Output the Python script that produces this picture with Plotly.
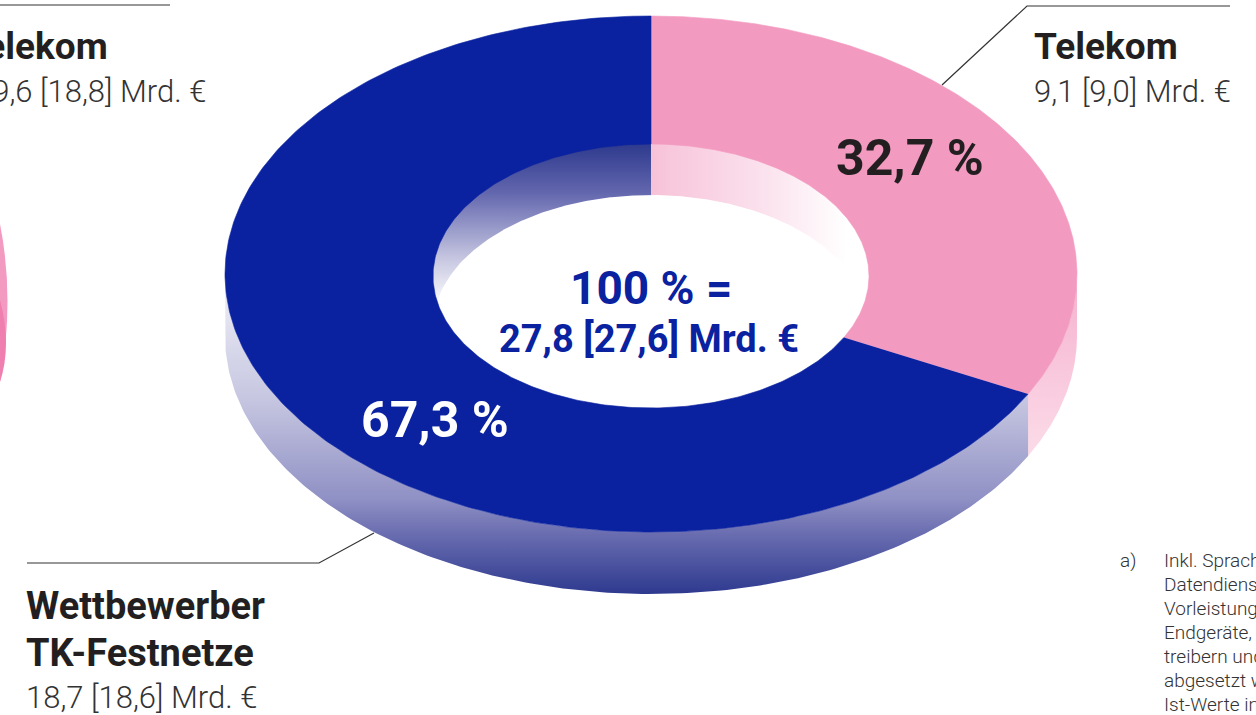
import numpy as np
import plotly.graph_objects as go

# ---------------- data ----------------
segments = ["Telekom", "Wettbewerber TK-Festnetze"]
shares_pct = [32.7, 67.3]
values_bn = [9.1, 18.7]
values_prev_bn = [9.0, 18.6]
total_bn = 27.8
total_prev_bn = 27.6
neighbour_label = "Telekom"
neighbour_value = "19,6 [18,8] Mrd. €"
footnote_marker = "a)"
footnote_lines = ["Inkl. Sprach- und", "Datendienste sowie", "Vorleistungen und",
                  "Endgeräte, die an Be-", "treibern und Kunden", "abgesetzt werden.",
                  "Ist-Werte in Mrd. €"]

# ---------------- style ----------------
PINK = "#F39AC1"
BLUE = "#0A22A0"
DARK = "#231F20"
GREY = "#333333"
FONT = "Roboto"

CX, CY, RX, RY, DEPTH = 651, 274, 426, 258, 62
HCY, HRX, HRY, IN_DEPTH = 276, 218, 132, 51


def fmt(v):
    return f"{v:.1f}".replace(".", ",")


def ell(theta_deg, rx, ry, cy, dy=0.0):
    t = np.radians(theta_deg)
    return CX + rx * np.sin(t), cy - ry * np.cos(t) + dy


edges = np.concatenate([[0], np.cumsum(shares_pct)]) / sum(shares_pct) * 360.0

fig = go.Figure()

side_scales = [
    dict(colorscale=[[0, "#F5B0CE"], [1, "#FBD8E6"]], start=270, stop=440),
    dict(colorscale=[[0, "#F2F2F9"], [0.39, "#C6C6E1"], [0.70, "#8F90C4"],
                     [0.80, "#6C6FB1"], [1, "#2C388E"]], start=274, stop=596),
]

# outer front wall
for i in range(len(shares_pct)):
    a0, a1 = max(edges[i], 90), min(edges[i + 1], 270)
    if a1 <= a0:
        continue
    th = np.linspace(a0, a1, 200)
    xt, yt = ell(th, RX, RY, CY)
    xb, yb = ell(th[::-1], RX, RY, CY, DEPTH)
    fig.add_trace(go.Scatter(
        x=np.concatenate([xt, xb]), y=np.concatenate([yt, yb]),
        mode="lines", line=dict(width=0), fill="toself",
        fillgradient=dict(type="vertical", **side_scales[i]),
        hoverinfo="skip", showlegend=False))

# inner back wall (left half blue, right half pink)
th = np.linspace(180, 360, 200)
x, y = ell(th, HRX + 2, HRY + 2, HCY)
fig.add_trace(go.Scatter(
    x=x, y=y, mode="lines", line=dict(width=0), fill="toself",
    fillgradient=dict(type="vertical", start=HCY - HRY, stop=HCY + IN_DEPTH / 2 + 4,
                      colorscale=[[0, "#2E3A8E"], [0.3, "#6266AD"], [0.7, "#C4C4E0"], [1, "#FFFFFF"]]),
    hoverinfo="skip", showlegend=False))
th = np.linspace(0, 180, 200)
x, y = ell(th, HRX + 2, HRY + 2, HCY)
fig.add_trace(go.Scatter(
    x=x, y=y, mode="lines", line=dict(width=0), fill="toself",
    fillgradient=dict(type="horizontal", start=CX, stop=CX + 195,
                      colorscale=[[0, "#F7C2D8"], [0.6, "#FBE3EE"], [1, "#FFFFFF"]]),
    hoverinfo="skip", showlegend=False))

# floor of the hole
xi = HRX * np.sqrt(1 - (IN_DEPTH / (2 * HRY)) ** 2)
xs = np.linspace(-xi, xi, 300)
s = np.sqrt(np.clip(1 - (xs / HRX) ** 2, 0, 1))
fig.add_trace(go.Scatter(
    x=np.concatenate([CX + xs, CX + xs[::-1]]),
    y=np.concatenate([HCY + IN_DEPTH - HRY * s, (HCY + HRY * s)[::-1]]),
    mode="lines", line=dict(width=0), fill="toself", fillcolor="#FFFFFF",
    hoverinfo="skip", showlegend=False))

# top face sectors
top_colors = [PINK, BLUE]
for i in range(len(shares_pct)):
    th = np.linspace(edges[i], edges[i + 1], 300)
    xo, yo = ell(th, RX, RY, CY)
    xn, yn = ell(th[::-1], HRX, HRY, HCY)
    fig.add_trace(go.Scatter(
        x=np.concatenate([xo, xn]), y=np.concatenate([yo, yn]),
        mode="lines", line=dict(width=0.6, color=top_colors[i]), fill="toself",
        fillcolor=top_colors[i], hoverinfo="skip", showlegend=False))

# ---------------- annotations ----------------
ann = []


def add(text, x, y, size, color=DARK, weight=700, xanchor="left"):
    ann.append(dict(text=text, x=x, y=y, xref="x", yref="y", showarrow=False,
                    xanchor=xanchor, yanchor="middle",
                    font=dict(family=FONT, size=size, color=color, weight=weight)))


add(segments[0], 1032, 46, 37)
add(f"{fmt(values_bn[0])} [{fmt(values_prev_bn[0])}] Mrd. €", 1032, 91, 31, color=GREY, weight=300)
add("Wettbewerber", 24, 606, 38)
add("TK-Festnetze", 24, 653, 38)
add(f"{fmt(values_bn[1])} [{fmt(values_prev_bn[1])}] Mrd. €", 24, 697, 31, color=GREY, weight=300)

add(f"{fmt(shares_pct[0])} %", 910, 158, 50, xanchor="center")
add(f"{fmt(shares_pct[1])} %", 435, 420, 50, color="#FFFFFF", xanchor="center")
add(f"{sum(shares_pct):.0f} % =", 651, 288, 46, color=BLUE, xanchor="center")
add(f"{fmt(total_bn)} [{fmt(total_prev_bn)}] Mrd. €", 649, 339, 38, color=BLUE, xanchor="center")

add(neighbour_label, 110, 46, 37, xanchor="right")
add(neighbour_value, 208, 91, 31, color=GREY, weight=300, xanchor="right")

add(footnote_marker, 1118, 560, 19, color=GREY, weight=300)
for k, line in enumerate(footnote_lines):
    add(line, 1162, 560 + 24.0 * k, 19, color=GREY, weight=300)

shapes = [
    dict(type="path", path="M 942,85 L 1027,6 L 1230,6", line=dict(color=GREY, width=1.2)),
    dict(type="path", path="M 374,533 L 319,563 L 27,563", line=dict(color=GREY, width=1.2)),
    dict(type="line", x0=0, x1=170, y0=5, y1=5, line=dict(color=GREY, width=1.2)),
    dict(type="path", path="M 0,224 Q 15,300 0,382 Z", fillcolor=PINK, line=dict(width=0)),
    dict(type="path", path="M 0,300 Q 12,345 0,382 Z", fillcolor="#EF7FAF", line=dict(width=0)),
]

fig.update_layout(
    width=1256, height=715, autosize=False,
    margin=dict(l=0, r=0, t=0, b=0),
    paper_bgcolor="#FFFFFF", plot_bgcolor="#FFFFFF",
    xaxis=dict(range=[0, 1256], visible=False, fixedrange=True),
    yaxis=dict(range=[715, 0], visible=False, fixedrange=True),
    annotations=ann, shapes=shapes, showlegend=False,
)

fig.write_html("out.html", config={"displayModeBar": False},
               post_script="document.body.style.margin='0';document.body.style.overflow='hidden';")
